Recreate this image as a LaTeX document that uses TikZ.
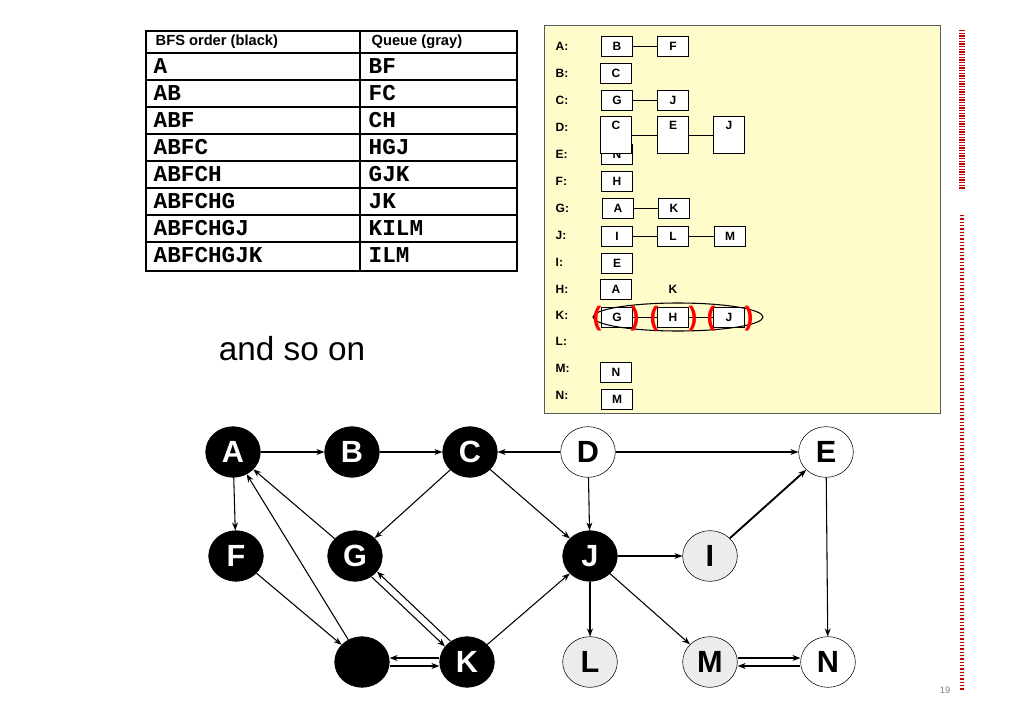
\documentclass[tikz,border=0pt]{standalone}
\usepackage{fontspec}
\setmainfont{Liberation Sans}
\newfontfamily\monofont{Liberation Mono}
\usetikzlibrary{arrows.meta, positioning, shapes.geometric}

\begin{document}
\begin{tikzpicture}[x=0.75pt, y=-0.75pt,
  vtx/.style={ellipse, draw, thin, minimum width=41pt, minimum height=38pt, inner sep=0pt,
    font=\fontsize{23}{25}\selectfont\bfseries},
  done/.style={vtx, fill=black, text=white},
  queued/.style={vtx, fill=gray!15},
  fresh/.style={vtx, fill=white},
  edge/.style={-{Stealth[length=6pt, width=4.5pt]}, line width=0.8pt},
  cell/.style={draw, fill=white, minimum width=23pt, minimum height=15pt, inner sep=0pt,
    font=\fontsize{9}{10}\selectfont\bfseries},
  tall/.style={cell, minimum height=28pt, text depth=14pt},
  lbl/.style={anchor=west, font=\fontsize{9}{10}\selectfont\bfseries},
  paren/.style={text=red, font=\fontsize{20}{20}\selectfont\bfseries},
  mono/.style={anchor=west, font=\fontsize{17}{18}\selectfont\monofont\bfseries}]
\useasboundingbox (0,0) rectangle (1024,724);

% BFS table
\draw[line width=2pt] (146,31) rectangle (517,271);
\draw[line width=1.2pt] (360,31) -- (360,271);
\foreach \y in {53,80,107,134,161,188,215,242}
  \draw[line width=2pt] (146,\y) -- (517,\y);
\node[anchor=west, font=\fontsize{11}{12}\selectfont\bfseries] (hdrorder) at (151,42) {BFS order (black)};
\node[anchor=west, font=\fontsize{11}{12}\selectfont\bfseries] (hdrqueue) at (367,42) {Queue (gray)};
\foreach \order/\queue [count=\i] in {A/BF, AB/FC, ABF/CH, ABFC/HGJ, ABFCH/GJK, ABFCHG/JK, ABFCHGJ/KILM, ABFCHGJK/ILM} {
  \node[mono] (ord\i) at (149,39+27*\i) {\order};
  \node[mono] (que\i) at (364,39+27*\i) {\queue};
}

\node[font=\fontsize{25}{26}\selectfont] (andsoon) at (292,349) {and so on};

% adjacency lists
\draw[fill=yellow!20, draw=gray!70!black] (544,25) rectangle (940,413);
\foreach \v/\y in {A/46, B/73, C/100, D/127, E/154, F/181, G/208, J/235, I/262, H/289, K/315, L/341, M/368, N/395}
  \node[lbl] (row\v) at (551,\y) {\v:};
\node[cell] (aB) at (617,46) {B};
\node[cell] (aF) at (673,46) {F};
\draw (aB) -- (aF);
\node[cell] (bC) at (616,73) {C};
\node[cell] (cG) at (617,100) {G};
\node[cell] (cJ) at (673,100) {J};
\draw (cG) -- (cJ);
\node[cell] (eN) at (617,154) {N};
\node[tall] (dC) at (616,135) {C};
\node[tall] (dE) at (673,135) {E};
\node[tall] (dJ) at (729,135) {J};
\draw (dC) -- (dE) -- (dJ);
\node[cell] (fH) at (617,181) {H};
\node[cell] (gA) at (618,208) {A};
\node[cell] (gK) at (674,208) {K};
\draw (gA) -- (gK);
\node[cell] (jI) at (617,236) {I};
\node[cell] (jL) at (673,236) {L};
\node[cell] (jM) at (730,236) {M};
\draw (jI) -- (jL) -- (jM);
\node[cell] (iE) at (617,263) {E};
\node[cell] (hA) at (616,289) {A};
\node[font=\fontsize{9}{10}\selectfont\bfseries] (hK) at (673,289) {K};
\node[cell] (kG) at (617,317) {G};
\node[cell] (kH) at (673,317) {H};
\node[cell] (kJ) at (729,317) {J};
\draw (kG) -- (kH) -- (kJ);
\draw[thick] (678,317) ellipse (85 and 14);
\foreach \x/\p [count=\i] in {597/(, 635/), 654/(, 693/), 711/(, 749/)}
  \node[paren] (par\i) at (\x,319) {\p};
\node[cell] (mN) at (616,372) {N};
\node[cell] (nM) at (617,399) {M};

% red side bars
\draw[red!75!black, line width=4pt, dash pattern=on 1pt off 1pt] (962,30) -- (962,190);
\draw[red!75!black, line width=3pt, dash pattern=on 1pt off 1.5pt] (962,215) -- (962,690);
\node[text=gray, font=\fontsize{7}{8}\selectfont] (pagenum) at (945,690) {19};

% graph
\node[done] (A) at (233,452) {A};
\node[done] (B) at (352,452) {B};
\node[done] (C) at (470,452) {C};
\node[fresh] (D) at (588,452) {D};
\node[fresh] (E) at (826,452) {E};
\node[done] (F) at (236,556) {F};
\node[done] (G) at (355,556) {G};
\node[done] (J) at (590,556) {J};
\node[queued] (I) at (710,556) {I};
\node[done] (H) at (362,662) {};
\node[done] (K) at (467,662) {K};
\node[queued] (L) at (590,662) {L};
\node[queued] (M) at (710,662) {M};
\node[fresh] (N) at (828,662) {N};

\draw[edge] (A) -- (B);
\draw[edge] (B) -- (C);
\draw[edge] (D) -- (C);
\draw[edge] (D) -- (E);
\draw[edge] (A) -- (F);
\draw[edge] (C) -- (G);
\draw[edge] (C) -- (J);
\draw[edge] (D) -- (J);
\draw[edge] (G) -- (A);
\draw[edge] (H) -- (A);
\draw[edge] (F) -- (H);
\draw[edge, transform canvas={shift={(-2pt,-2pt)}}] (G) -- (K);
\draw[edge, transform canvas={shift={(2pt,2pt)}}] (K) -- (G);
\draw[edge, transform canvas={yshift=3pt}] (K) -- (H);
\draw[edge, transform canvas={yshift=-3pt}] (H) -- (K);
\draw[edge] (K) -- (J);
\draw[edge] (J) -- (I);
\draw[edge, line width=1.4pt] (I) -- (E);
\draw[edge] (J) -- (L);
\draw[edge] (J) -- (M);
\draw[edge] (E) -- (N);
\draw[edge, transform canvas={yshift=3pt}] (M) -- (N);
\draw[edge, transform canvas={yshift=-3pt}] (N) -- (M);
\end{tikzpicture}
\end{document}
